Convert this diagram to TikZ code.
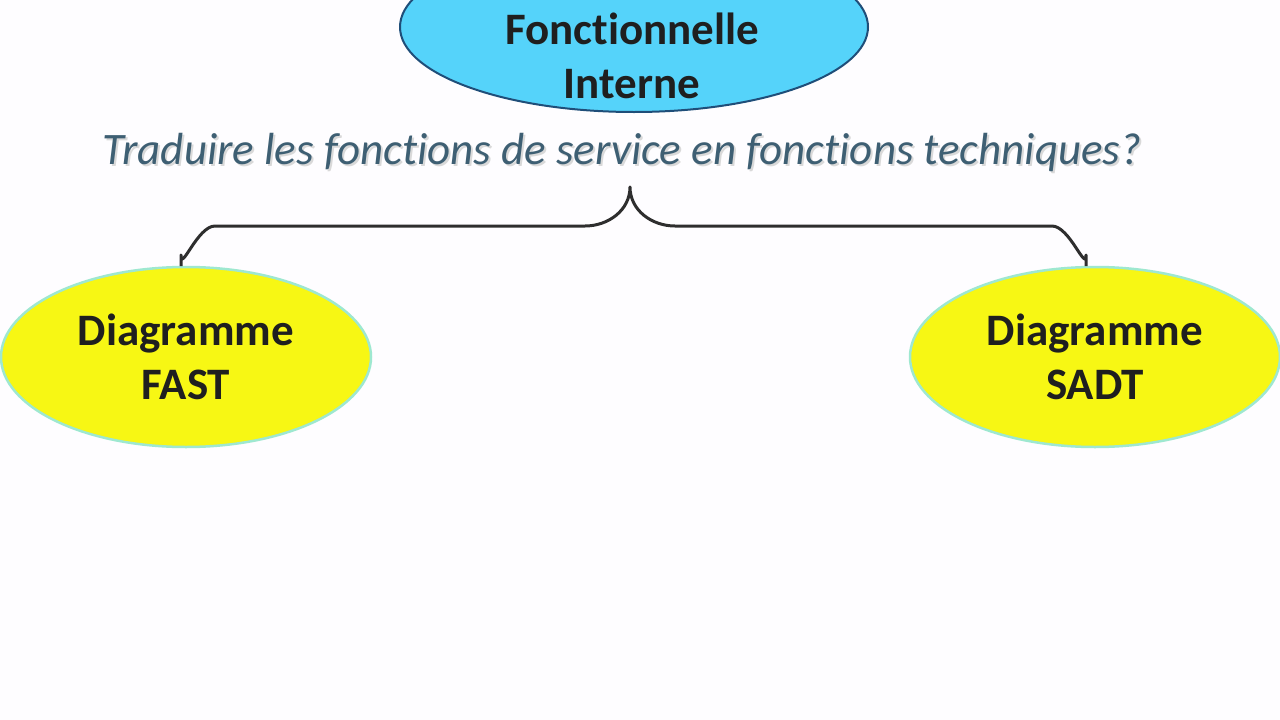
\documentclass[tikz,border=0pt]{standalone}
\usepackage{fontspec}
\setmainfont[Ligatures=NoCommon]{Carlito}
\usetikzlibrary{shapes.geometric}
\definecolor{bg}{HTML}{FEFDFF}
\definecolor{topfill}{HTML}{55D3FA}
\definecolor{topedge}{HTML}{1F4E79}
\definecolor{yel}{HTML}{F7F714}
\definecolor{yeledge}{HTML}{9EE8D0}
\definecolor{qcol}{HTML}{3E5F73}
\definecolor{brc}{HTML}{2E2E2E}
\tikzset{
  topell/.style={ellipse, draw=topedge, line width=2pt, fill=topfill, minimum width=468pt, minimum height=170pt, inner sep=0pt},
  yelell/.style={ellipse, draw=yeledge, line width=2.5pt, fill=yel, minimum width=370pt, minimum height=180pt, inner sep=0pt},
  lbl/.style={font=\fontsize{45}{54}\selectfont\bfseries, text=black!88, align=center},
  question/.style={font=\fontsize{45}{50}\selectfont\itshape},
  brace/.style={draw=brc, line width=3pt, line join=round}
}
\begin{document}
\begin{tikzpicture}[x=1pt,y=-1pt]
\useasboundingbox (0,0) rectangle (1280,720);
\fill[bg] (0,0) rectangle (1280,720);
\node[topell] (top) at (634,27) {};
\node[lbl] (toplbl) at (632,56) {Fonctionnelle\\Interne};
\node[question, text=black!15] (qshadow) at (624,155) {Traduire les fonctions de service en fonctions techniques?};
\node[question, text=qcol] (q) at (622,153) {Traduire les fonctions de service en fonctions techniques?};
\node[yelell] (fast) at (186,357) {};
\node[lbl] at (fast.center) {Diagramme\\FAST};
\node[yelell] (sadt) at (1095,357) {};
\node[lbl] at (sadt.center) {Diagramme\\SADT};
\coordinate (tip) at (630,187);
\coordinate (lc) at (181,266);
\coordinate (rc) at (1086,266);
\draw[brace] (lc) -- (181,255) to[out=-90,in=180] (215,226) -- (585,226) to[out=0,in=-90] (tip)
  to[out=-90,in=180] (675,226) -- (1052,226) to[out=0,in=-90] (1086,255) -- (rc);
\end{tikzpicture}
\end{document}
